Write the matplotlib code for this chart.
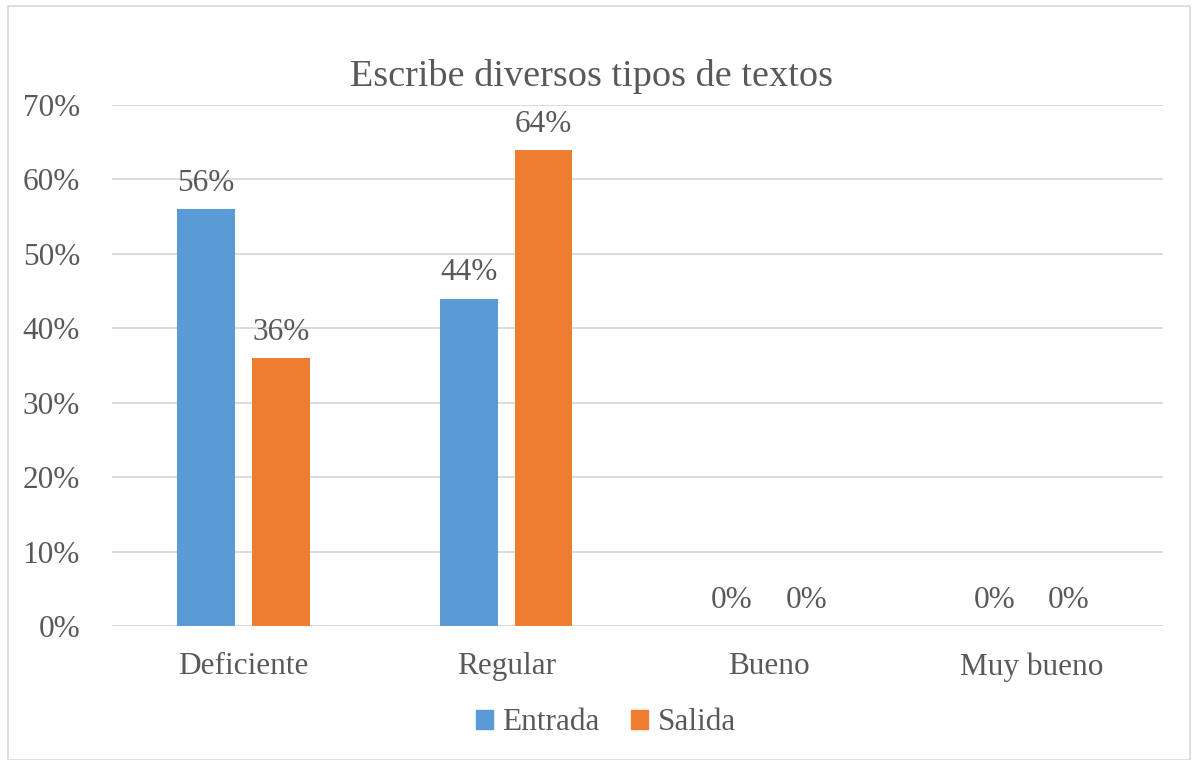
import numpy as np
import matplotlib
matplotlib.use('Agg')
import matplotlib.pyplot as plt
from matplotlib.patches import Patch, Rectangle

categories = ['Deficiente', 'Regular', 'Bueno', 'Muy bueno']
entrada = [0.56, 0.44, 0.0, 0.0]
salida = [0.36, 0.64, 0.0, 0.0]
series_names = ['Entrada', 'Salida']
yticks = [0.0, 0.1, 0.2, 0.3, 0.4, 0.5, 0.6, 0.7]

plt.rcParams['font.family'] = ['Liberation Serif', 'DejaVu Serif']
txt = '#595959'
blue = '#5B9BD5'
orange = '#ED7D31'
fs = 22.5

W, H = 1192, 760
fig = plt.figure(figsize=(W/100, H/100), dpi=100)
fig.patches.append(Rectangle((8/W, 0), (1190-8)/W, 1-6/H, transform=fig.transFigure,
                             fill=False, edgecolor='#D9D9D9', lw=1.2))

ax = fig.add_axes([112/W, (H-626)/H, (1163-112)/W, (626-105)/H])
x = np.arange(len(categories))
bw = 0.22
off = 0.142
b1 = ax.bar(x - off, entrada, bw, color=blue, zorder=3)
b2 = ax.bar(x + off, salida, bw, color=orange, zorder=3)

for bars, vals in [(b1, entrada), (b2, salida)]:
    for b, v in zip(bars, vals):
        ax.annotate('%d%%' % round(v*100), (b.get_x() + b.get_width()/2, v),
                    xytext=(0, 8), textcoords='offset points', ha='center', va='bottom',
                    fontsize=fs, color=txt)

ax.set_xlim(-0.5, len(categories) - 0.5)
ax.set_ylim(0, 0.7)
ax.set_yticks(yticks)
ax.set_yticklabels(['%d%%' % round(t*100) for t in yticks], fontsize=fs, color=txt)
ax.set_xticks(x)
ax.set_xticklabels(categories, fontsize=fs, color=txt)
ax.tick_params(length=0)
ax.tick_params(axis='y', pad=23)
ax.tick_params(axis='x', pad=19)
ax.grid(axis='y', color='#D9D9D9', lw=1.3, zorder=0)
for s in ax.spines.values():
    s.set_visible(False)

fig.text(591/W, 1-77/H, 'Escribe diversos tipos de textos', ha='center', va='center',
         fontsize=27.5, color=txt)

handles = [Patch(color=blue), Patch(color=orange)]
fig.legend(handles, series_names, loc='center', bbox_to_anchor=(606/W, 1-723/H), ncol=2,
           frameon=False, fontsize=fs, handlelength=0.55, handleheight=0.55,
           handletextpad=0.3, columnspacing=1.0, labelcolor=txt)

fig.savefig('out.png', dpi=100)
